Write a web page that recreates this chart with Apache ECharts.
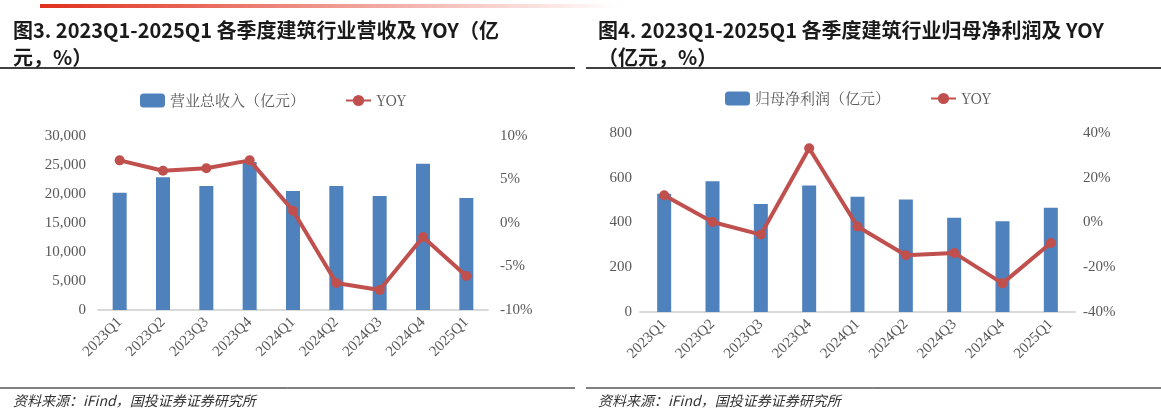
<!DOCTYPE html>
<html><head><meta charset="utf-8">
<script src="https://cdn.jsdelivr.net/npm/echarts@6/dist/echarts.min.js"></script>
<style>html,body{margin:0;padding:0;background:#fff}#c{width:1161px;height:415px}</style>
</head><body><div id="c"></div>
<script>
// categories shared by both panels
const quarters = ['2023Q1','2023Q2','2023Q3','2023Q4','2024Q1','2024Q2','2024Q3','2024Q4','2025Q1'];
// 图3 营业总收入（亿元） and YOY (%)
const revenue = [20200, 22900, 21400, 25500, 20500, 21400, 19650, 25200, 19300];
const revenueYoy = [7.2, 6.0, 6.3, 7.2, 1.4, -6.9, -7.7, -1.6, -6.1];
// 图4 归母净利润（亿元） and YOY (%)
const profit = [528, 584, 483, 565, 515, 503, 421, 406, 466];
const profitYoy = [12.2, 0.2, -5.4, 33.2, -1.8, -14.6, -13.6, -27.2, -9.2];

const BLUE = '#4f81bd', RED = '#c0504d';
const serif = 'Liberation Serif';
const axisText = {color: '#595959', fontFamily: serif, fontSize: 15};

const chart = echarts.init(document.getElementById('c'));

const xAxis = (gi) => ({
  type: 'category', gridIndex: gi, data: quarters,
  axisLine: {lineStyle: {color: '#d9d9d9', width: 2}},
  axisTick: {show: false},
  axisLabel: Object.assign({rotate: 45, margin: 10, interval: 0}, axisText)
});

const titleStyle = {fontFamily: 'Noto Sans CJK SC', fontSize: 20, fontWeight: 'bold', color: '#1a1a1a', lineHeight: 27};
const srcStyle = {fontFamily: 'Noto Sans CJK SC', fontSize: 14, fontStyle: 'italic', fontWeight: 'normal', color: '#333'};
const legendText = {fontFamily: 'Noto Serif CJK SC, Noto Sans CJK SC', fontSize: 15, color: '#595959'};

chart.setOption({
  animation: false,
  title: [
    {text: '图3. 2023Q1-2025Q1 各季度建筑行业营收及 YOY（亿\n元，%）', left: 8, top: 12, textStyle: titleStyle},
    {text: '图4. 2023Q1-2025Q1 各季度建筑行业归母净利润及 YOY\n（亿元，%）', left: 593, top: 12, textStyle: titleStyle},
    {text: '资料来源：iFind，国投证券证券研究所', left: 8, top: 389, textStyle: srcStyle},
    {text: '资料来源：iFind，国投证券证券研究所', left: 593, top: 389, textStyle: srcStyle}
  ],
  graphic: [
    {type: 'rect', shape: {x: 40, y: 4, width: 580, height: 4}, style: {fill: new echarts.graphic.LinearGradient(0, 0, 1, 0, [{offset: 0, color: '#e0301e'}, {offset: 1, color: 'rgba(224,48,30,0)'}])}},
    {type: 'line', shape: {x1: 0, y1: 68, x2: 575, y2: 68}, style: {stroke: '#000', lineWidth: 1.5}},
    {type: 'line', shape: {x1: 586, y1: 68, x2: 1161, y2: 68}, style: {stroke: '#000', lineWidth: 1.5}},
    {type: 'line', shape: {x1: 0, y1: 388, x2: 575, y2: 388}, style: {stroke: '#000', lineWidth: 1}},
    {type: 'line', shape: {x1: 586, y1: 388, x2: 1161, y2: 388}, style: {stroke: '#000', lineWidth: 1}}
  ],
  legend: [
    {data: ['营业总收入（亿元）', 'YOY'], left: 135, top: 88, itemGap: 40, textStyle: legendText},
    {data: ['归母净利润（亿元）', 'YOY2'], left: 720, top: 86, itemGap: 40, formatter: n => n === 'YOY2' ? 'YOY' : n, textStyle: legendText}
  ],
  grid: [
    {left: 98, top: 136, width: 390, height: 174},
    {left: 640, top: 133, width: 435, height: 179}
  ],
  xAxis: [xAxis(0), xAxis(1)],
  yAxis: [
    {type: 'value', gridIndex: 0, min: 0, max: 30000, interval: 5000, splitLine: {show: false},
      axisLabel: Object.assign({formatter: v => v.toLocaleString('en-US'), margin: 12}, axisText)},
    {type: 'value', gridIndex: 0, min: -10, max: 10, interval: 5, splitLine: {show: false},
      axisLabel: Object.assign({formatter: v => v + '%', margin: 12}, axisText)},
    {type: 'value', gridIndex: 1, min: 0, max: 800, interval: 200, splitLine: {show: false}, axisLabel: axisText},
    {type: 'value', gridIndex: 1, min: -40, max: 40, interval: 20, splitLine: {show: false},
      axisLabel: Object.assign({formatter: v => v + '%', margin: 8}, axisText)}
  ],
  series: [
    {name: '营业总收入（亿元）', type: 'bar', xAxisIndex: 0, yAxisIndex: 0, data: revenue, barWidth: 14, itemStyle: {color: BLUE}},
    {name: 'YOY', type: 'line', xAxisIndex: 0, yAxisIndex: 1, data: revenueYoy, symbol: 'circle', symbolSize: 10, lineStyle: {color: RED, width: 4}, itemStyle: {color: RED}},
    {name: '归母净利润（亿元）', type: 'bar', xAxisIndex: 1, yAxisIndex: 2, data: profit, barWidth: 14, itemStyle: {color: BLUE}},
    {name: 'YOY2', type: 'line', xAxisIndex: 1, yAxisIndex: 3, data: profitYoy, symbol: 'circle', symbolSize: 10, lineStyle: {color: RED, width: 4}, itemStyle: {color: RED}}
  ]
});
</script>
</body></html>
